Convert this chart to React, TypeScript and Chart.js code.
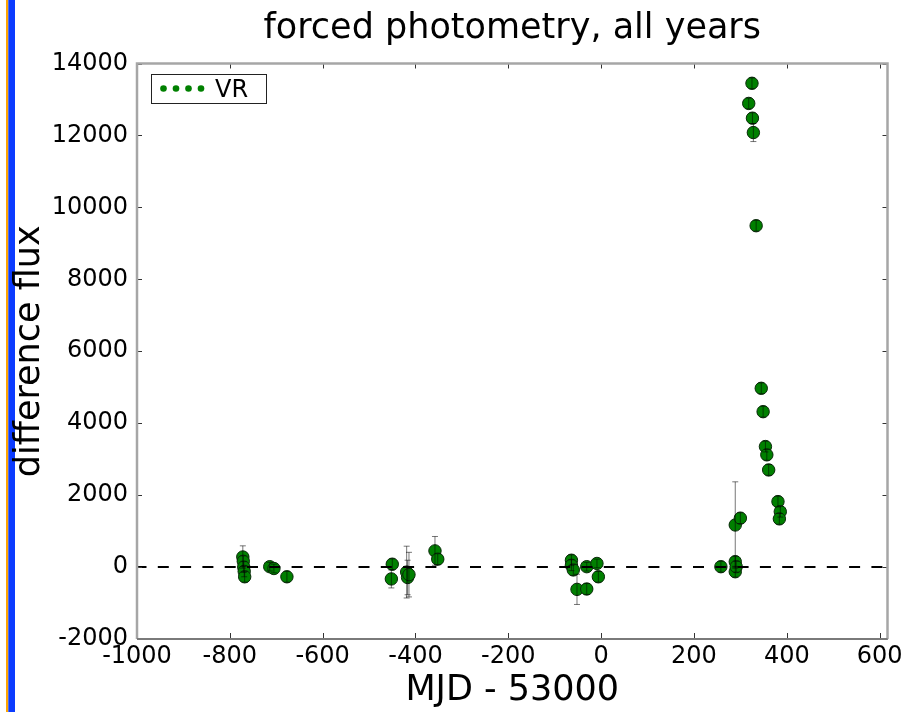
import React, { useEffect, useRef } from "react";
import { Chart, registerables } from "chart.js";

Chart.register(...registerables);

const TITLE = "forced photometry, all years";
const X_LABEL = "MJD - 53000";
const Y_LABEL = "difference flux";
const SERIES_NAME = "VR";

// Observation epochs (MJD - 53000), difference flux and 1-sigma errors
const mjd = [
  -772, -771, -770, -769, -768,
  -714, -705, -677,
  -450, -452, -419, -417, -414, -358, -352,
  -64, -64, -60, -52, -31, -31, -9, -6,
  258, 289, 289, 291, 289, 300,
  318, 325, 326, 328, 334,
  345, 349, 354, 357, 361,
  381, 386, 384,
];
const flux = [
  280, 160, 0, -120, -270,
  10, -40, -270,
  80, -330, -140, -290, -210, 450, 220,
  190, 50, -80, -620, 10, -610, 100, -270,
  10, 150, -130, 10, 1170, 1360,
  12890, 13450, 12480, 12080, 9490,
  4970, 4320, 3350, 3120, 2700,
  1820, 1540, 1340,
];
const fluxErr = [
  310, 150, 150, 150, 150,
  120, 120, 150,
  150, 250, 720, 480, 620, 400, 150,
  150, 150, 150, 420, 120, 150, 120, 150,
  150, 150, 150, 150, 1200, 150,
  150, 150, 150, 250, 150,
  150, 150, 150, 150, 150,
  150, 150, 150,
];

const xTicks = [-1000, -800, -600, -400, -200, 0, 200, 400, 600];
const yTicks = [-2000, 0, 2000, 4000, 6000, 8000, 10000, 12000, 14000];
const xRange = [-1000, 617];
const yRange = [-2000, 14000];
const baselineFlux = 0;

const MARKER_GREEN = "#008000";

// page edge stripes and white background
const backdropPlugin = {
  id: "backdrop",
  beforeDraw(chart: any) {
    const { ctx, width, height } = chart;
    ctx.save();
    ctx.fillStyle = "#ffffff";
    ctx.fillRect(0, 0, width, height);
    ctx.fillStyle = "#ffa500";
    ctx.fillRect(6, 0, 2.3, height);
    ctx.fillStyle = "#0b3bff";
    ctx.fillRect(8.3, 0, 6.7, height);
    ctx.restore();
  },
};

// vertical error bars plus the dashed zero-flux reference line
const overlayPlugin = {
  id: "overlay",
  afterDatasetsDraw(chart: any) {
    const { ctx, chartArea } = chart;
    const xs = chart.scales.x;
    const ys = chart.scales.y;
    ctx.save();
    ctx.beginPath();
    ctx.rect(chartArea.left, chartArea.top, chartArea.right - chartArea.left, chartArea.bottom - chartArea.top);
    ctx.clip();

    ctx.strokeStyle = "rgba(0,0,0,0.6)";
    ctx.lineWidth = 0.9;
    for (let i = 0; i < mjd.length; i++) {
      const px = xs.getPixelForValue(mjd[i]);
      const yTop = ys.getPixelForValue(flux[i] + fluxErr[i]);
      const yBot = ys.getPixelForValue(flux[i] - fluxErr[i]);
      ctx.beginPath();
      ctx.moveTo(px, yTop);
      ctx.lineTo(px, yBot);
      ctx.moveTo(px - 3, yTop);
      ctx.lineTo(px + 3, yTop);
      ctx.moveTo(px - 3, yBot);
      ctx.lineTo(px + 3, yBot);
      ctx.stroke();
    }

    const y0 = ys.getPixelForValue(baselineFlux);
    ctx.strokeStyle = "#000000";
    ctx.lineWidth = 2;
    ctx.setLineDash([11, 11.3]);
    ctx.lineDashOffset = 1.5;
    ctx.beginPath();
    ctx.moveTo(chartArea.left, y0);
    ctx.lineTo(chartArea.right, y0);
    ctx.stroke();
    ctx.restore();
  },
};

// axes frame, inward tick marks and the legend box
const framePlugin = {
  id: "frame",
  afterDraw(chart: any) {
    const { ctx, chartArea } = chart;
    const { left, right, top, bottom } = chartArea;
    const xs = chart.scales.x;
    const ys = chart.scales.y;
    ctx.save();

    ctx.strokeStyle = "#333333";
    ctx.lineWidth = 1;
    ctx.beginPath();
    for (const v of xTicks) {
      const px = Math.round(xs.getPixelForValue(v)) + 0.5;
      ctx.moveTo(px, bottom);
      ctx.lineTo(px, bottom - 6);
      ctx.moveTo(px, top);
      ctx.lineTo(px, top + 5);
    }
    for (const v of yTicks) {
      const py = Math.round(ys.getPixelForValue(v)) + 0.5;
      ctx.moveTo(left, py);
      ctx.lineTo(left + 5, py);
      ctx.moveTo(right, py);
      ctx.lineTo(right - 5, py);
    }
    ctx.stroke();

    ctx.lineWidth = 2.5;
    ctx.strokeStyle = "#a6a6a6";
    ctx.beginPath();
    ctx.moveTo(left, bottom);
    ctx.lineTo(left, top);
    ctx.lineTo(right, top);
    ctx.lineTo(right, bottom);
    ctx.stroke();
    ctx.lineWidth = 2;
    ctx.strokeStyle = "#7a7a7a";
    ctx.beginPath();
    ctx.moveTo(left, bottom);
    ctx.lineTo(right, bottom);
    ctx.stroke();

    // legend
    const bx = left + 14;
    const by = top + 10.5;
    ctx.fillStyle = "#ffffff";
    ctx.fillRect(bx, by, 115, 29);
    ctx.strokeStyle = "#222222";
    ctx.lineWidth = 1;
    ctx.strokeRect(bx + 0.5, by + 0.5, 115, 29);
    ctx.fillStyle = MARKER_GREEN;
    for (let i = 0; i < 4; i++) {
      ctx.beginPath();
      ctx.arc(bx + 12.5 + i * 12.5, by + 14.5, 3.3, 0, Math.PI * 2);
      ctx.fill();
    }
    ctx.fillStyle = "#000000";
    ctx.font = "24px 'DejaVu Sans'";
    ctx.textBaseline = "alphabetic";
    ctx.textAlign = "left";
    ctx.fillText(SERIES_NAME, bx + 64, by + 23);
    ctx.restore();
  },
};

export default function App() {
  const canvasRef = useRef<HTMLCanvasElement | null>(null);

  useEffect(() => {
    const canvas = canvasRef.current;
    if (!canvas) return;
    Chart.defaults.font.family = "'DejaVu Sans', sans-serif";
    Chart.defaults.color = "#000000";

    const points = mjd.map((m, i) => ({ x: m, y: flux[i] }));

    const chart = new Chart(canvas, {
      type: "scatter",
      data: {
        datasets: [
          {
            label: SERIES_NAME,
            data: points,
            pointRadius: 6.2,
            pointHoverRadius: 6.2,
            pointBackgroundColor: MARKER_GREEN,
            pointBorderColor: "#0a2a0a",
            pointBorderWidth: 1,
            showLine: false,
          },
        ],
      },
      options: {
        responsive: false,
        animation: false,
        events: [],
        layout: { padding: { left: 0, right: 21.5, top: 0, bottom: 0 } },
        plugins: {
          legend: { display: false },
          tooltip: { enabled: false },
          title: {
            display: true,
            fullSize: false,
            text: TITLE,
            color: "#000000",
            font: { size: 35, weight: "normal" },
            padding: { top: 8, bottom: 13.5 },
          },
        },
        scales: {
          x: {
            type: "linear",
            min: xRange[0],
            max: xRange[1],
            afterBuildTicks: (s: any) => {
              s.ticks = xTicks.map((v) => ({ value: v }));
            },
            afterFit: (s: any) => {
              s.height = 73;
            },
            grid: { display: false, drawTicks: false },
            border: { display: false },
            ticks: {
              color: "#000000",
              font: { size: 24 },
              padding: 3,
              maxRotation: 0,
              autoSkip: false,
              callback: (v: any) => String(v),
            },
            title: {
              display: true,
              text: X_LABEL,
              color: "#000000",
              font: { size: 35 },
              padding: { top: 0, bottom: 0 },
            },
          },
          y: {
            type: "linear",
            min: yRange[0],
            max: yRange[1],
            afterBuildTicks: (s: any) => {
              s.ticks = yTicks.map((v) => ({ value: v }));
            },
            afterFit: (s: any) => {
              s.width = 137;
            },
            grid: { display: false, drawTicks: false },
            border: { display: false },
            ticks: {
              color: "#000000",
              font: { size: 24 },
              padding: 9,
              autoSkip: false,
              callback: (v: any) => String(v),
            },
            title: {
              display: true,
              text: Y_LABEL,
              color: "#000000",
              font: { size: 35 },
              padding: { top: 9, bottom: 0 },
            },
          },
        },
      },
      plugins: [backdropPlugin, overlayPlugin, framePlugin],
    } as any);

    return () => chart.destroy();
  }, []);

  return (
    <div style={{ position: "absolute", left: 0, top: 0, width: 909, height: 712, background: "#ffffff" }}>
      <canvas ref={canvasRef} width={909} height={712} />
    </div>
  );
}
